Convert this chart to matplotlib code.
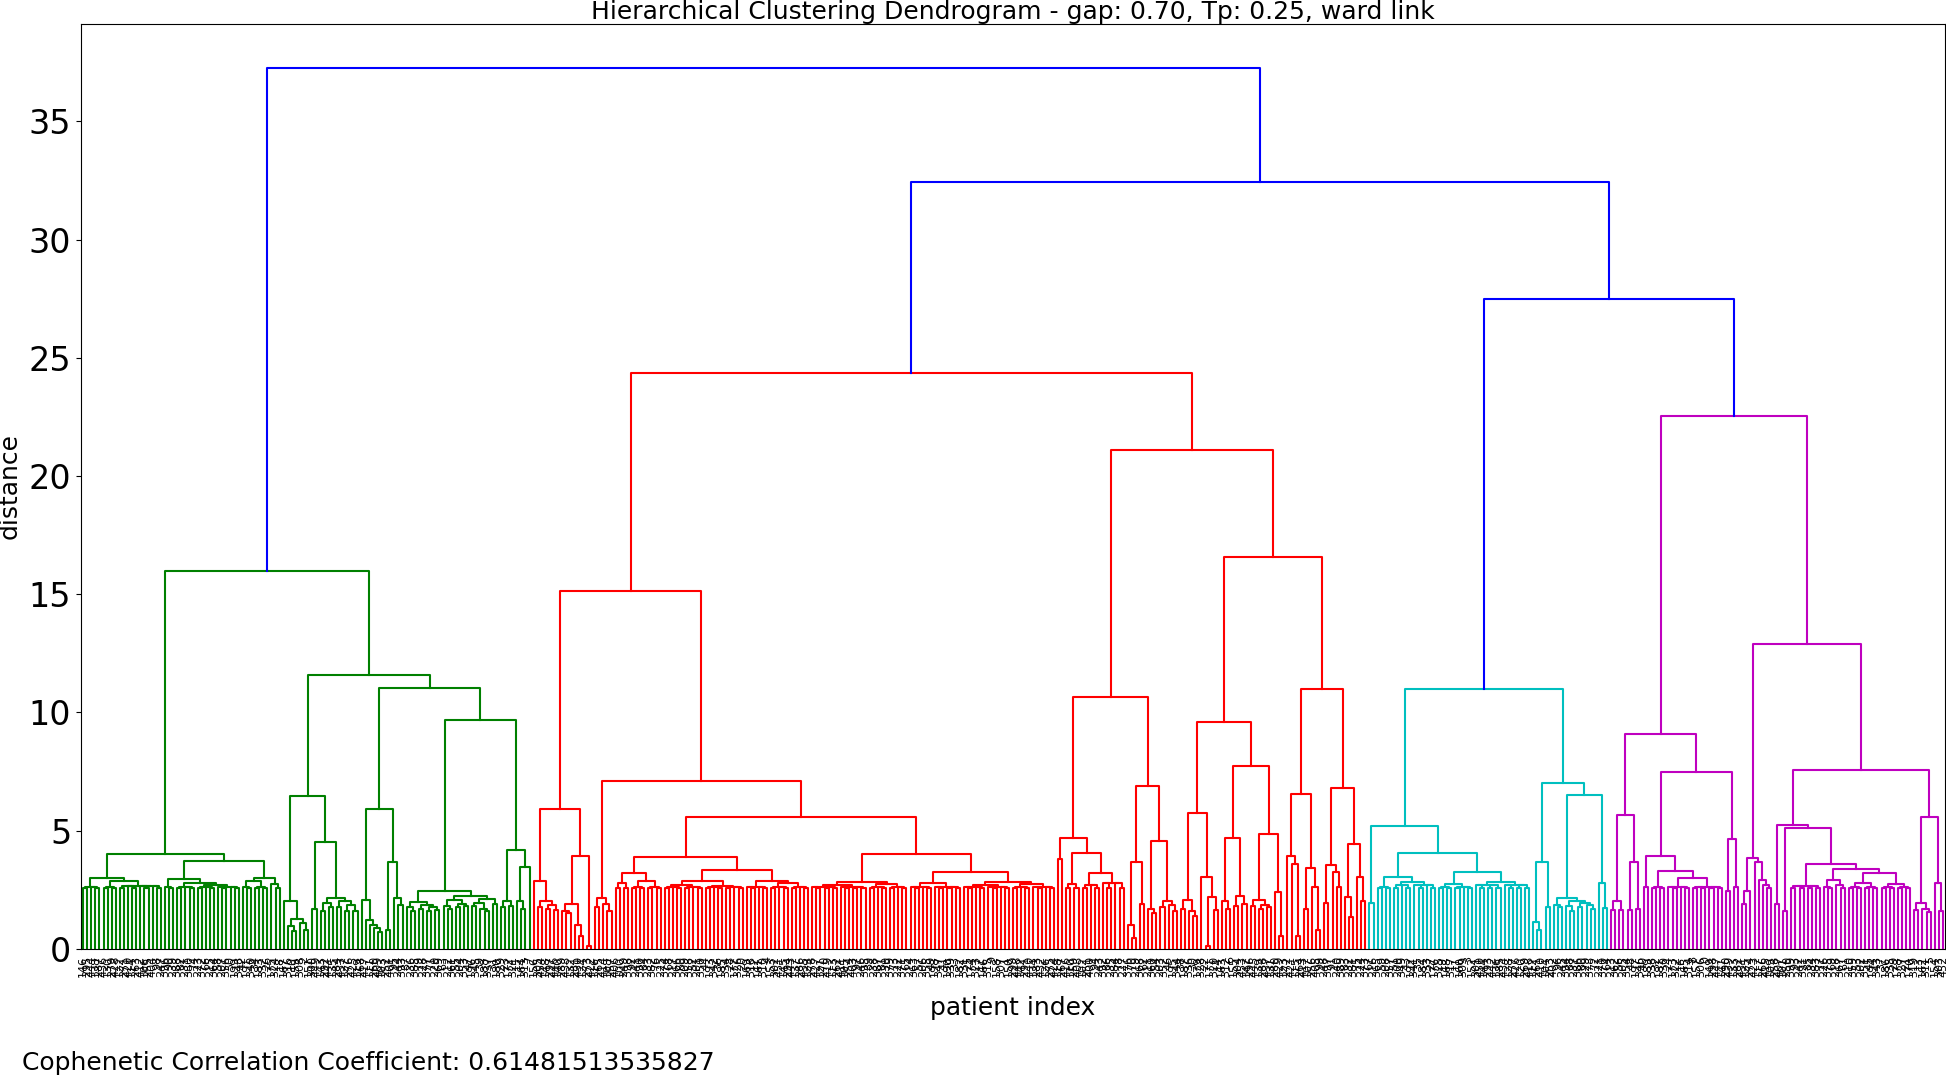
import matplotlib
matplotlib.use("Agg")
import matplotlib.pyplot as plt

# tree data: [merge distance, left, right]; 1 = one patient;
# (n, h_pair, h_top) = tight group of n patients (pairs join at h_pair, the rest at h_top)

# green cluster
g_left = [3.0, (5, 2.56, 2.62), [2.86, (4, 2.56, 2.62), (11, 2.56, 2.64)]]
g_right = [3.71,
           [2.93, (3, 2.56, 2.62), [2.8, (5, 2.56, 2.62), [2.7, (5, 2.56, 2.63), (6, 2.56, 2.63)]]],
           [3.0, [2.85, (3, 2.56, 2.62), (4, 2.56, 2.62)], (3, 2.56, 2.75)]]
g_a = [3.99, g_left, g_right]
g_b = [6.48, [2.0, 1, [1.25, [0.95, 1, [0.75, 1, 1]], [1.1, 1, [0.8, 1, 1]]]],
       [4.5, [1.7, 1, 1], [2.13, [1.95, [1.6, 1, 1], [1.75, 1, 1]],
                          [2.0, [1.75, 1, 1], [1.85, [1.6, 1, 1], [1.6, 1, 1]]]]]]
g_c = [5.9, [2.06, 1, [1.22, 1, [1.0, 1, [0.86, 1, [0.7, 1, 1]]]]],
       [3.68, [0.79, 1, 1], [2.13, 1, [1.85, 1, 1]]]]
g_d = [9.69, [2.44, [1.98, [1.75, 1, [1.6, 1, 1]], [1.85, [1.7, 1, 1], [1.75, [1.6, 1, 1], [1.65, 1, 1]]]],
              [2.23, [2.05, [1.8, 1, [1.7, 1, 1]], [1.9, [1.75, 1, 1], [1.8, 1, 1]]],
                     [2.12, [1.95, [1.8, 1, 1], [1.7, 1, [1.6, 1, 1]]], [1.9, 1, 1]]]],
       [4.18, [2.03, [1.75, 1, 1], [1.8, 1, 1]], [3.44, [2.0, 1, [1.7, 1, 1]], 1]]]
green = [15.98, g_a, [11.57, g_b, [11.05, g_c, g_d]]]

# red cluster
r_a = [5.9, [2.86, 1, [2.0, [1.75, 1, 1], [1.85, [1.7, 1, 1], [1.65, 1, 1]]]],
       [3.92, [1.87, [1.6, 1, [1.5, 1, 1]], [1.0, 1, [0.55, 1, 1]]], [0.12, 1, 1]]]
r_b = [3.9, [3.19, [2.77, (2, 2.56, 2.56), (2, 2.56, 2.56)], [2.86, (4, 2.56, 2.63), (4, 2.56, 2.63)]],
       [3.33, [2.86, [2.7, (5, 2.56, 2.62), (5, 2.56, 2.62)], [2.65, (5, 2.56, 2.62), (5, 2.56, 2.62)]],
              [2.86, (6, 2.56, 2.62), [2.77, (5, 2.56, 2.62), (5, 2.56, 2.62)]]]]
r_c = [4.0, [2.81, [2.7, (7, 2.56, 2.63), (7, 2.56, 2.63)], [2.75, (5, 2.56, 2.62), (5, 2.56, 2.62)]],
       [3.26, [2.77, (6, 2.56, 2.62), (7, 2.56, 2.63)],
              [2.81, [2.7, (6, 2.56, 2.62), (6, 2.56, 2.62)], [2.75, (5, 2.56, 2.62), (6, 2.56, 2.62)]]]]
r_left = [15.15, r_a, [7.11, [2.13, [1.76, 1, 1], [1.87, 1, [1.6, 1, 1]]], [5.59, r_b, r_c]]]
r_d = [10.63, [4.67, [3.78, 1, 1], [4.05, (4, 2.56, 2.75), [3.2, (5, 2.56, 2.7), (6, 2.56, 2.8)]]],
       [6.9, [3.65, [1.0, 1, [0.45, 1, 1]], [1.9, 1, 1]],
             [4.57, [1.7, 1, [1.5, 1, 1]], [2.0, [1.75, 1, 1], [1.85, 1, [1.6, 1, 1]]]]]]
r_e = [9.58, [5.74, [2.04, [1.7, 1, 1], [1.6, 1, [1.4, 1, 1]]], [3.05, 1, [2.2, [0.12, 1, 1], [1.65, 1, 1]]]],
       [7.74, [4.67, [2.0, 1, [1.7, 1, 1]], [2.24, [1.8, 1, 1], [1.9, 1, 1]]],
              [4.85, [2.04, [1.8, 1, 1], [1.85, [1.7, 1, 1], [1.75, 1, 1]]], [2.4, 1, [0.55, 1, 1]]]]]
r_f = [11.0, [6.55, [3.92, 1, [3.6, 1, [0.55, 1, 1]]], [3.42, [1.7, 1, 1], [2.6, 1, [0.8, 1, 1]]]],
       [6.8, [3.55, [1.95, 1, 1], [3.26, 1, [2.6, 1, 1]]],
             [4.42, [2.2, 1, [1.35, 1, 1]], [3.05, 1, [2.0, 1, 1]]]]]
red = [24.34, r_left, [21.08, r_d, [16.56, r_e, r_f]]]

# cyan cluster
c_a = [5.17, [1.92, 1, 1],
       [4.04, [3.05, (4, 2.56, 2.62), [2.81, (5, 2.56, 2.7), (6, 2.56, 2.7)]],
              [3.26, [2.75, (4, 2.56, 2.62), (5, 2.56, 2.62)], [2.81, (7, 2.56, 2.7), (7, 2.56, 2.7)]]]]
c_b = [7.0, [3.65, [1.14, 1, [0.8, 1, 1]], [1.78, 1, 1]],
       [6.5, [2.15, [1.85, 1, [1.75, 1, 1]],
                    [2.0, [1.8, 1, [1.6, 1, 1]], [1.95, [1.75, 1, 1], [1.85, 1, [1.7, 1, 1]]]]],
             [2.77, 1, [1.72, 1, 1]]]]
cyan = [11.0, c_a, c_b]

# magenta cluster
m_a = [9.1, [5.64, [2.02, [1.65, 1, 1], [1.65, 1, 1]], [3.68, [1.64, 1, 1], [1.67, 1, 1]]],
       [7.48, [3.92, (2, 2.6, 2.6), [3.28, (4, 2.56, 2.63), [3.0, (6, 2.56, 2.62), (8, 2.56, 2.62)]]],
              [4.63, [2.44, 1, 1], [2.6, 1, 1]]]]
m_b = [3.83, [2.44, [1.9, 1, 1], 1],
       [3.68, 1, [2.9, 1, [2.7, 1, [2.56, 1, 1]]]]]
m_c = [5.25, [1.87, 1, 1],
       [5.1, [1.6, 1, 1],
        [3.6, (8, 2.56, 2.66),
         [3.37, [2.9, (3, 2.56, 2.62), (3, 2.56, 2.7)],
                [3.2, [2.8, (4, 2.56, 2.62), (4, 2.56, 2.62)], [2.75, (4, 2.56, 2.62), (4, 2.56, 2.62)]]]]]]
m_d = [5.59, [1.95, [1.65, 1, 1], [1.7, 1, [1.55, 1, 1]]], [2.77, 1, [1.6, 1, 1]]]
magenta = [22.55, m_a, [12.89, m_b, [7.58, m_c, m_d]]]

root = [37.27, green, [32.43, red, [27.49, cyan, magenta]]]

gap = 0.70
coph_corr = 0.61481513535827
palette = ['g', 'r', 'c', 'm', 'y', 'k']
above_color = 'b'


def expand(n, hp, ht):
    if n == 1:
        return 1
    if n == 2:
        return [hp, 1, 1]
    k = n // 2
    return [ht, expand(k, hp, ht), expand(n - k, hp, ht)]


leaf_x = []
links = []
state = {'ci': 0}
threshold = gap * root[0]


def walk(node, color):
    if node == 1:
        x = 5 + 10 * len(leaf_x)
        leaf_x.append(x)
        return x, 0.0
    if isinstance(node, tuple):
        node = expand(*node)
    h, a, b = node
    if color is None and h < threshold:
        color = palette[state['ci'] % len(palette)]
        state['ci'] += 1
    xa, ha = walk(a, color)
    xb, hb = walk(b, color)
    links.append(([xa, xa, xb, xb], [ha, h, h, hb], color if color else above_color))
    return (xa + xb) / 2, h


walk(root, None)
n = len(leaf_x)
patient_ids = [(i * 149 + 146) % n for i in range(n)]

fig = plt.figure(figsize=(19.46, 10.75), dpi=100)
ax = fig.add_axes([81 / 1946, 1 - 948.7 / 1075, 1864 / 1946, 925 / 1075])
for xs, ys, col in links:
    ax.plot(xs, ys, color=col, lw=1.5)

ax.set_xlim(0, 10 * n)
ax.set_ylim(0, root[0] * 1.05)
ax.set_xticks(leaf_x)
ax.set_xticklabels([str(p) for p in patient_ids], rotation=90, fontsize=8)
ax.tick_params(axis='x', length=0, pad=5)
ax.set_yticks(range(0, 40, 5))
ax.tick_params(axis='y', labelsize=24)

ax.set_title("Hierarchical Clustering Dendrogram - gap: %.2f, Tp: 0.25, ward link" % gap,
             fontsize=18, pad=3)
fig.text(10 / 1946, 1 - 486 / 1075, "distance", rotation=90, fontsize=18, ha='center', va='center')
fig.text(1013 / 1946, 1 - 1008 / 1075, "patient index", fontsize=18, ha='center', va='center')
fig.text(22 / 1946, 1 - 1063 / 1075, "Cophenetic Correlation Coefficient: " + str(coph_corr),
         fontsize=18, ha='left', va='center')

fig.savefig("out.png", dpi=100)
